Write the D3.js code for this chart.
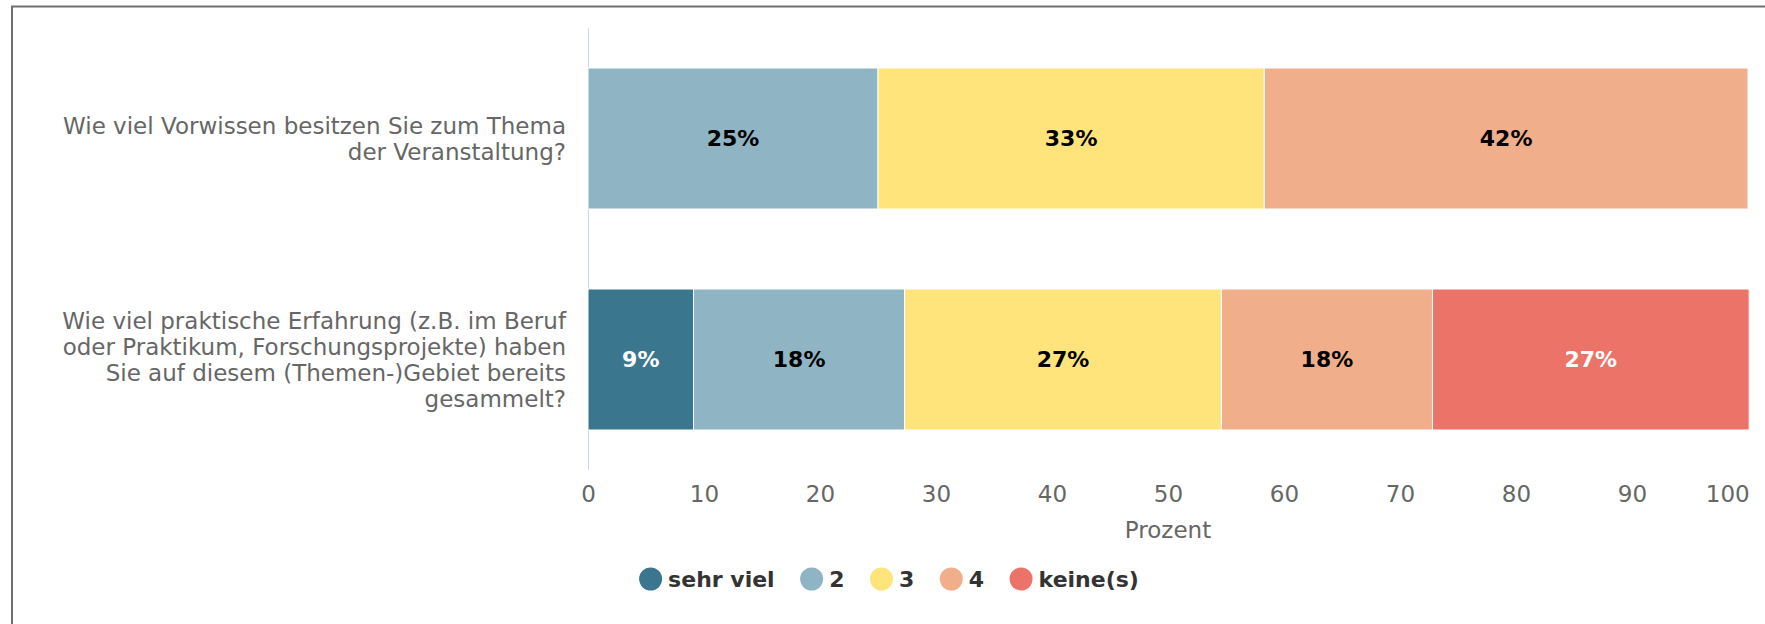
<!DOCTYPE html>
<html>
<head>
<meta charset="utf-8">
<script src="https://cdn.jsdelivr.net/npm/d3@7"></script>
<style>
  body { margin: 0; background: #fff; }
  svg { display: block; font-family: "DejaVu Sans", sans-serif; }
</style>
</head>
<body>
<svg id="chart" width="1765" height="624"></svg>
<script>
// questions (categories) and answer scale
var questions = [
  "Wie viel Vorwissen besitzen Sie zum Thema der Veranstaltung?",
  "Wie viel praktische Erfahrung (z.B. im Beruf oder Praktikum, Forschungsprojekte) haben Sie auf diesem (Themen-)Gebiet bereits gesammelt?"
];
var answers = ["sehr viel", "2", "3", "4", "keine(s)"];

// percent per answer, one value per question
var sehrViel = [0, 9.1];
var zwei     = [25, 18.2];
var drei     = [33.3, 27.3];
var vier     = [41.7, 18.2];
var keine    = [0, 27.3];

var xTicks = [0, 10, 20, 30, 40, 50, 60, 70, 80, 90, 100];
var xTitle = "Prozent";

var colors = ["#3b768f", "#8fb4c4", "#fee47b", "#f0af8a", "#ec7368"];

var series = [sehrViel, zwei, drei, vier, keine];
var rows = questions.map(function(q, i) {
  var r = { question: q };
  answers.forEach(function(a, j) { r[a] = series[j][i]; });
  return r;
});

var margin = { top: 28, left: 588, right: 17, bottom: 154 };
var width = 1765, height = 624;

var svg = d3.select("#chart");

// outer frame
svg.append("rect")
  .attr("x", 12).attr("y", 6.5)
  .attr("width", 1800).attr("height", 700)
  .attr("fill", "none")
  .attr("stroke", "#6e6e6e")
  .attr("stroke-width", 2);

var x = d3.scaleLinear()
  .domain([0, 100])
  .range([margin.left, width - margin.right]);

var y = d3.scaleBand()
  .domain(questions)
  .range([margin.top, height - margin.bottom])
  .paddingInner(0.362)
  .paddingOuter(0.181);

var color = d3.scaleOrdinal().domain(answers).range(colors);

var stacked = d3.stack().keys(answers)(rows);

// category axis line
svg.append("line")
  .attr("x1", x(0) + 0.5).attr("x2", x(0) + 0.5)
  .attr("y1", margin.top).attr("y2", height - margin.bottom)
  .attr("stroke", "#ccd6eb");

var groups = svg.selectAll("g.series")
  .data(stacked)
  .enter().append("g")
    .attr("class", "series")
    .attr("fill", function(d) { return color(d.key); });

groups.selectAll("rect")
  .data(function(d) { return d.filter(function(s) { return s[1] - s[0] > 0; }); })
  .enter().append("rect")
    .attr("x", function(d) { return x(d[0]); })
    .attr("y", function(d) { return y(d.data.question); })
    .attr("width", function(d) { return x(d[1]) - x(d[0]); })
    .attr("height", y.bandwidth())
    .attr("stroke", "#fff")
    .attr("stroke-width", 1);

// value labels inside the segments
groups.each(function(s) {
  var c = color(s.key);
  var txtColor = d3.lab(c).l < 66 ? "#fff" : "#000";
  d3.select(this).selectAll("text")
    .data(s.filter(function(d) { return d[1] - d[0] > 0; }))
    .enter().append("text")
      .attr("x", function(d) { return (x(d[0]) + x(d[1])) / 2; })
      .attr("y", function(d) { return y(d.data.question) + y.bandwidth() / 2; })
      .attr("dy", "0.36em")
      .attr("text-anchor", "middle")
      .style("font-size", "22px")
      .style("font-weight", "bold")
      .attr("fill", txtColor)
      .text(function(d) { return Math.round(d[1] - d[0]) + "%"; });
});

// x axis
var xAxis = d3.axisBottom(x)
  .tickValues(xTicks)
  .tickSize(0)
  .tickPadding(16);

var gx = svg.append("g")
  .attr("transform", "translate(0," + (height - margin.bottom) + ")")
  .call(xAxis);
gx.select(".domain").remove();
gx.selectAll("text")
  .style("font-size", "23px")
  .style("font-family", "DejaVu Sans, sans-serif")
  .attr("fill", "#666");
gx.selectAll(".tick:last-of-type text").attr("text-anchor", "end").attr("dx", "0.05em");

svg.append("text")
  .attr("x", (x(0) + x(100)) / 2)
  .attr("y", 530)
  .attr("dy", "0.35em")
  .attr("text-anchor", "middle")
  .attr("fill", "#666")
  .style("font-size", "23px")
  .text(xTitle);

// category labels, wrapped
var yAxis = d3.axisLeft(y).tickSize(0).tickPadding(22);
var gy = svg.append("g")
  .attr("transform", "translate(" + margin.left + ",0)")
  .call(yAxis);
gy.select(".domain").remove();
gy.selectAll("text")
  .style("font-size", "23px")
  .style("font-family", "DejaVu Sans, sans-serif")
  .attr("fill", "#666")
  .call(wrap, 522, 26);

function wrap(sel, maxW, lineH) {
  sel.each(function() {
    var t = d3.select(this);
    var words = t.text().split(/\s+/);
    var xPos = t.attr("x");
    t.text(null);
    var lines = [], cur = [];
    var probe = t.append("tspan");
    words.forEach(function(w) {
      cur.push(w);
      probe.text(cur.join(" "));
      if (probe.node().getComputedTextLength() > maxW && cur.length > 1) {
        cur.pop();
        lines.push(cur.join(" "));
        cur = [w];
      }
    });
    lines.push(cur.join(" "));
    probe.remove();
    t.attr("dy", null);
    var off = -(lines.length - 1) / 2 * lineH;
    lines.forEach(function(l, i) {
      t.append("tspan")
        .attr("x", xPos)
        .attr("y", 0)
        .attr("dy", (off + i * lineH + 8) + "px")
        .text(l);
    });
  });
}

// legend, centered on the whole chart
var legend = svg.append("g").attr("transform", "translate(0,579)");
var items = legend.selectAll("g")
  .data(answers)
  .enter().append("g");
items.append("circle")
  .attr("r", 11.5)
  .attr("fill", function(d) { return color(d); });
items.append("text")
  .attr("x", 17.5)
  .attr("dy", "0.36em")
  .style("font-size", "22px")
  .style("font-weight", "bold")
  .attr("fill", "#333")
  .text(function(d) { return d; });

var pos = 0, offsets = [];
items.each(function() {
  var w = d3.select(this).select("text").node().getComputedTextLength();
  offsets.push(pos);
  pos += 17.5 + w + 37;
});
var total = pos - 37 + 11.5;
var start = 889 - total / 2 + 11.5;
items.attr("transform", function(d, i) { return "translate(" + (start + offsets[i]) + ",0)"; });
</script>
</body>
</html>
